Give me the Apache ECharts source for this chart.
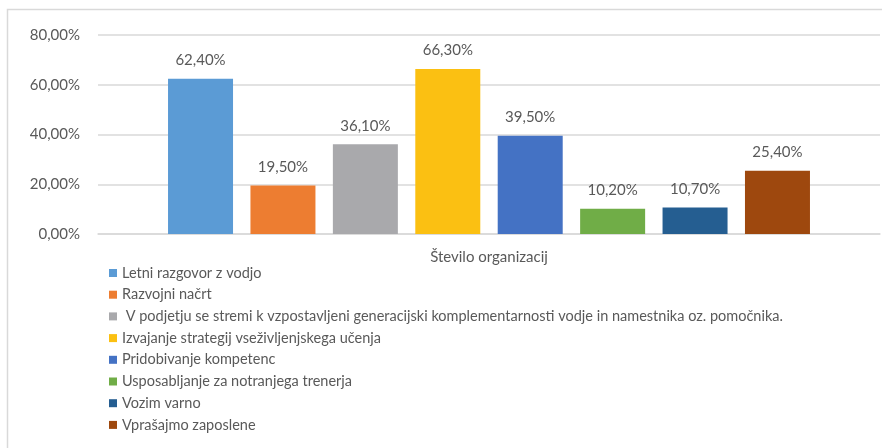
<!DOCTYPE html>
<html>
<head>
<meta charset="utf-8">
<script src="https://cdn.jsdelivr.net/npm/echarts@6/dist/echarts.min.js"></script>
<style>
  html, body { margin: 0; padding: 0; background: #fff; }
  #chart { width: 882px; height: 448px; }
</style>
</head>
<body>
<div id="chart"></div>
<script>
// podatki
var categories = ['Število organizacij'];
var seriesNames = [
  'Letni razgovor z vodjo',
  'Razvojni načrt',
  ' V podjetju se stremi k vzpostavljeni generacijski komplementarnosti vodje in namestnika oz. pomočnika.',
  'Izvajanje strategij vseživljenjskega učenja',
  'Pridobivanje kompetenc',
  'Usposabljanje za notranjega trenerja',
  'Vozim varno',
  'Vprašajmo zaposlene'
];
var seriesValues = [62.4, 19.5, 36.1, 66.3, 39.5, 10.2, 10.7, 25.4];
var colors = ['#5B9BD5', '#ED7D31', '#A9A9AC', '#FBC012', '#4472C4', '#70AD47', '#255E91', '#9E480E'];
var yTicks = { min: 0, max: 80, interval: 20 };

var fmt = function (v) {
  return v.toFixed(2).replace('.', ',') + '%';
};

var myChart = echarts.init(document.getElementById('chart'));

var series = [];
for (var i = 0; i < seriesNames.length; i++) {
  series.push({
    name: seriesNames[i],
    type: 'bar',
    data: [seriesValues[i]],
    barWidth: 65,
    barGap: '26.8%',
    itemStyle: { color: colors[i] },
    label: {
      show: true,
      position: 'top',
      distance: 11,
      color: '#595959',
      fontFamily: 'Lato',
      fontSize: 15,
      formatter: function (p) { return fmt(p.value); }
    }
  });
}

var option = {
  animation: false,
  textStyle: { fontFamily: 'Lato' },
  graphic: [{
    type: 'rect',
    shape: { x: 7.5, y: 9.5, width: 900, height: 500 },
    style: { fill: 'none', stroke: '#d9d9d9', lineWidth: 1.5 },
    silent: true
  }],
  grid: {
    left: 98,
    right: 2,
    top: 35,
    bottom: 214
  },
  legend: {
    orient: 'vertical',
    left: 104,
    top: 260,
    itemWidth: 8,
    itemHeight: 8,
    itemGap: 5.7,
    icon: 'rect',
    textStyle: {
      color: '#595959',
      fontSize: 14.5,
      lineHeight: 16,
      fontFamily: 'Lato'
    },
    data: seriesNames
  },
  xAxis: {
    type: 'category',
    data: categories,
    axisTick: { show: false },
    axisLine: { lineStyle: { color: '#d9d9d9', width: 1.5 } },
    axisLabel: {
      color: '#595959',
      fontSize: 15,
      margin: 16
    }
  },
  yAxis: {
    type: 'value',
    min: yTicks.min,
    max: yTicks.max,
    interval: yTicks.interval,
    axisLine: { show: false },
    axisTick: { show: false },
    splitLine: { lineStyle: { color: '#d9d9d9', width: 1.5 } },
    axisLabel: {
      color: '#595959',
      fontSize: 15,
      margin: 18,
      formatter: fmt
    }
  },
  series: series
};

myChart.setOption(option);
</script>
</body>
</html>
